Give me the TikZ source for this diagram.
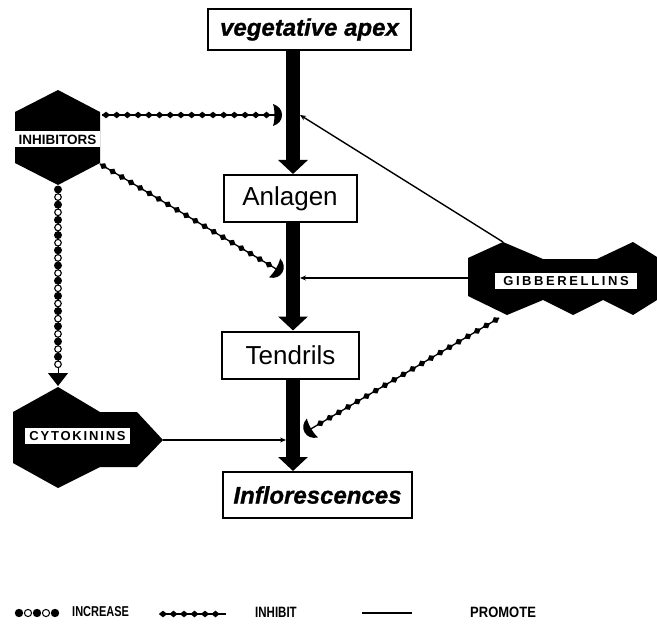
\documentclass[tikz,border=0pt]{standalone}
\usepackage{fontspec}
\setmainfont{Liberation Sans}
\newfontface\heavyit{Liberation Sans Bold Italic}[FakeBold=1]
\newfontfamily\gibfont[LetterSpace=20]{Liberation Sans}
\newfontfamily\cytfont[LetterSpace=14]{Liberation Sans}
\usetikzlibrary{arrows.meta,decorations.markings}
\newcommand{\diammark}{\fill (-4.2,0) -- (0,3.3) -- (4.2,0) -- (0,-3.3) -- cycle;}
\newcommand{\cresmark}{\fill (-4,11) .. controls (2,9) and (5,5) .. (5,0) .. controls (5,-5) and (2,-9) .. (-4,-11) .. controls (-2,-5) and (-2,5) .. (-4,11) -- cycle;}
\newcommand{\circmark}{\ifodd\pgfkeysvalueof{/pgf/decoration/mark info/sequence number}\relax
  \fill (0,0) circle (4);\else\filldraw[fill=white,draw=black,line width=1.1pt] (0,0) circle (3.3);\fi}
\tikzset{
  boxnode/.style={draw, line width=2pt, inner sep=0pt, fill=white},
  thickarrow/.style={line width=14pt, -{Triangle[width=29pt,length=14pt]}},
  promoteline/.style={line width=1.4pt, -{Stealth[length=6pt,width=5pt]}},
  inhibitline/.style={line width=1.3pt, postaction={decorate},
    decoration={markings, mark=between positions 4pt and -9pt step 10.7pt with {\diammark},
      mark=at position 1 with {\cresmark}}},
  inhibitchain/.style={line width=1.3pt, postaction={decorate},
    decoration={markings, mark=between positions 3pt and -2pt step 10.5pt with {\diammark}}},
  increaseline/.style={line width=1pt, -{Triangle[width=20pt,length=13pt]}, postaction={decorate},
    decoration={markings, mark=between positions 3.5pt and -16pt step 7.6pt with {\circmark}}},
  hexlabel/.style={fill=white, inner sep=0pt, font=\bfseries\fontsize{13.5}{14}\selectfont},
  legendtext/.style={anchor=west, inner sep=0pt, font=\bfseries}
}
\begin{document}
\begin{tikzpicture}[x=1pt,y=-1pt]
\useasboundingbox (0,0) rectangle (657,634);

% main boxes
\node[boxnode, minimum width=203, minimum height=41, font=\heavyit\fontsize{24}{26}\selectfont] (apex) at (309.5,29.5) {vegetative apex};
\node[boxnode, minimum width=133, minimum height=47, font=\fontsize{26}{28}\selectfont] (anl) at (290,198.5) {Anlagen};
\node[boxnode, minimum width=137, minimum height=47, font=\fontsize{26}{28}\selectfont] (ten) at (290.5,355) {Tendrils};
\node[boxnode, minimum width=189, minimum height=46, font=\heavyit\fontsize{24}{26}\selectfont] (inf) at (317.5,495) {Inflorescences};

% thick arrows
\coordinate (ax) at (293,0);
\draw[thickarrow] (apex.south -| ax) -- (anl.north -| ax);
\draw[thickarrow] (anl.south -| ax) -- (ten.north -| ax);
\draw[thickarrow] (ten.south -| ax) -- (inf.north -| ax);

% INHIBITORS hexagon
\fill (58,90) -- (100,112) -- (100,163) -- (58,185) -- (15,163) -- (15,112) -- cycle;
\node[hexlabel, minimum width=85, minimum height=16] (inh) at (57.5,139.5) {INHIBITORS};
\coordinate (inhE) at (102,115);
\coordinate (inhSE) at (100,164);
\coordinate (inhS) at (58,186);

% CYTOKININS shape
\fill (58,387) -- (100,412) -- (137,412) -- (163,440) -- (137,467) -- (100,467) -- (58,488) -- (13,463) -- (13,412) -- cycle;
\node[hexlabel, minimum width=105, minimum height=16, font=\cytfont\bfseries\fontsize{13}{14}\selectfont] (cyt) at (77.5,436) {CYTOKININS};
\coordinate (cytN) at (58,386);
\coordinate (cytE) at (163,440);

% GIBBERELLINS shape
\fill (468,258) -- (503,242) -- (543,259) -- (597,259) -- (633,242) -- (657,257) -- (657,300)
  -- (633,315) -- (603,300) -- (573,315) -- (543,300) -- (507,315) -- (468,296) -- cycle;
\node[hexlabel, minimum width=142, minimum height=16, font=\gibfont\bfseries\fontsize{13}{14}\selectfont] (gib) at (566,281) {GIBBERELLINS};
\coordinate (gibT) at (503,242);
\coordinate (gibW) at (468,278);
\coordinate (gibB) at (499,318);

% targets on the thick arrows
\coordinate (t1) at (277,115);
\coordinate (t2) at (278,270);
\coordinate (t3) at (309,430);
\coordinate (p1) at (300,115);
\coordinate (p2) at (300,278);
\coordinate (p3) at (286,440);

% connectors
\draw[inhibitline] (inhE) -- (t1);
\draw[inhibitline] (inhSE) -- (t2);
\draw[increaseline] (inhS) -- (cytN);
\draw[promoteline] (gibT) -- (p1);
\draw[promoteline] (gibW) -- (p2);
\draw[promoteline] (cytE) -- (p3);
\draw[inhibitline] (gibB) -- (t3);

% legend
\foreach \i/\xx in {1/19,2/28,3/37,4/46,5/55}{
  \ifodd\i \fill (\xx,613) circle (4.2);\else \filldraw[fill=white,line width=1pt] (\xx,613) circle (3.6);\fi
}
\node[legendtext, font=\bfseries\fontsize{11}{12}\selectfont] (linc) at (72,612) {\scalebox{1}[1.3]{INCREASE}};
\coordinate (lia) at (160,614);
\coordinate (lib) at (226,614);
\draw[inhibitchain] (lia) -- (lib);
\node[legendtext, font=\bfseries\fontsize{11.5}{12}\selectfont] (linh) at (255,612) {\scalebox{1}[1.3]{INHIBIT}};
\coordinate (lpa) at (362,613);
\coordinate (lpb) at (412,613);
\draw[line width=2pt] (lpa) -- (lpb);
\node[legendtext, font=\bfseries\fontsize{13}{14}\selectfont] (lpro) at (470,612) {\scalebox{1}[1.15]{PROMOTE}};
\end{tikzpicture}
\end{document}
